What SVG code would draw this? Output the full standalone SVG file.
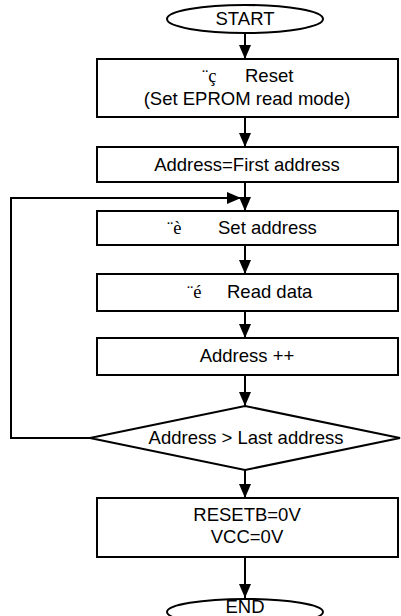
<svg xmlns="http://www.w3.org/2000/svg" width="401" height="616" viewBox="0 0 401 616">
<style>
.s{fill:#fff;stroke:#000;stroke-width:2}
.c{fill:none;stroke:#000;stroke-width:2}
text{font-family:"Liberation Sans",Arial,sans-serif;font-size:18.5px;fill:#000}
.m{text-anchor:middle}
.g{font-family:"Liberation Serif","Times New Roman",serif}
</style>
<defs>
<marker id="a" markerUnits="userSpaceOnUse" markerWidth="14" markerHeight="12" refX="14" refY="6" orient="auto">
<path d="M0,0 L14,6 L0,12 z" fill="#000"/>
</marker>
</defs>
<g id="connectors">
<line class="c" x1="245" y1="33" x2="245" y2="59" marker-end="url(#a)"/>
<line class="c" x1="245" y1="117" x2="245" y2="147" marker-end="url(#a)"/>
<line class="c" x1="245" y1="182" x2="245" y2="211" marker-end="url(#a)"/>
<line class="c" x1="245" y1="245" x2="245" y2="274" marker-end="url(#a)"/>
<line class="c" x1="245" y1="311" x2="245" y2="338" marker-end="url(#a)"/>
<line class="c" x1="245" y1="375" x2="245" y2="406" marker-end="url(#a)"/>
<line class="c" x1="245" y1="470" x2="245" y2="498" marker-end="url(#a)"/>
<line class="c" x1="245" y1="557" x2="245" y2="598" marker-end="url(#a)"/>
<polyline class="c" points="90,438 11,438 11,198 241,198" marker-end="url(#a)"/>
</g>
<g id="start">
<ellipse class="s" cx="245" cy="19" rx="78" ry="14"/>
<text class="m" x="245" y="25">START</text>
</g>
<g id="reset">
<rect class="s" x="97" y="59" width="301" height="58"/>
<text x="202" y="82"><tspan class="g">¨ç</tspan></text>
<text x="245" y="82">Reset</text>
<text class="m" x="247" y="105">(Set EPROM read mode)</text>
</g>
<g id="first">
<rect class="s" x="97" y="147" width="301" height="35"/>
<text class="m" x="247" y="171">Address=First address</text>
</g>
<g id="setaddr">
<rect class="s" x="97" y="211" width="301" height="34"/>
<text x="167" y="234"><tspan class="g">¨è</tspan></text>
<text x="218" y="234">Set address</text>
</g>
<g id="read">
<rect class="s" x="97" y="274" width="301" height="37"/>
<text x="187" y="298"><tspan class="g">¨é</tspan></text>
<text x="227" y="298">Read data</text>
</g>
<g id="inc">
<rect class="s" x="97" y="338" width="301" height="37"/>
<text class="m" x="247" y="362">Address ++</text>
</g>
<g id="decision">
<polygon class="s" points="245,406 400,438 245,470 90,438"/>
<text class="m" x="246" y="444">Address &gt; Last address</text>
</g>
<g id="off">
<rect class="s" x="97" y="498" width="301" height="59"/>
<text class="m" x="247" y="521">RESETB=0V</text>
<text class="m" x="247" y="543">VCC=0V</text>
</g>
<g id="end">
<ellipse class="s" cx="245" cy="612" rx="78" ry="13"/>
<text class="m" x="245" y="613">END</text>
</g>
</svg>
